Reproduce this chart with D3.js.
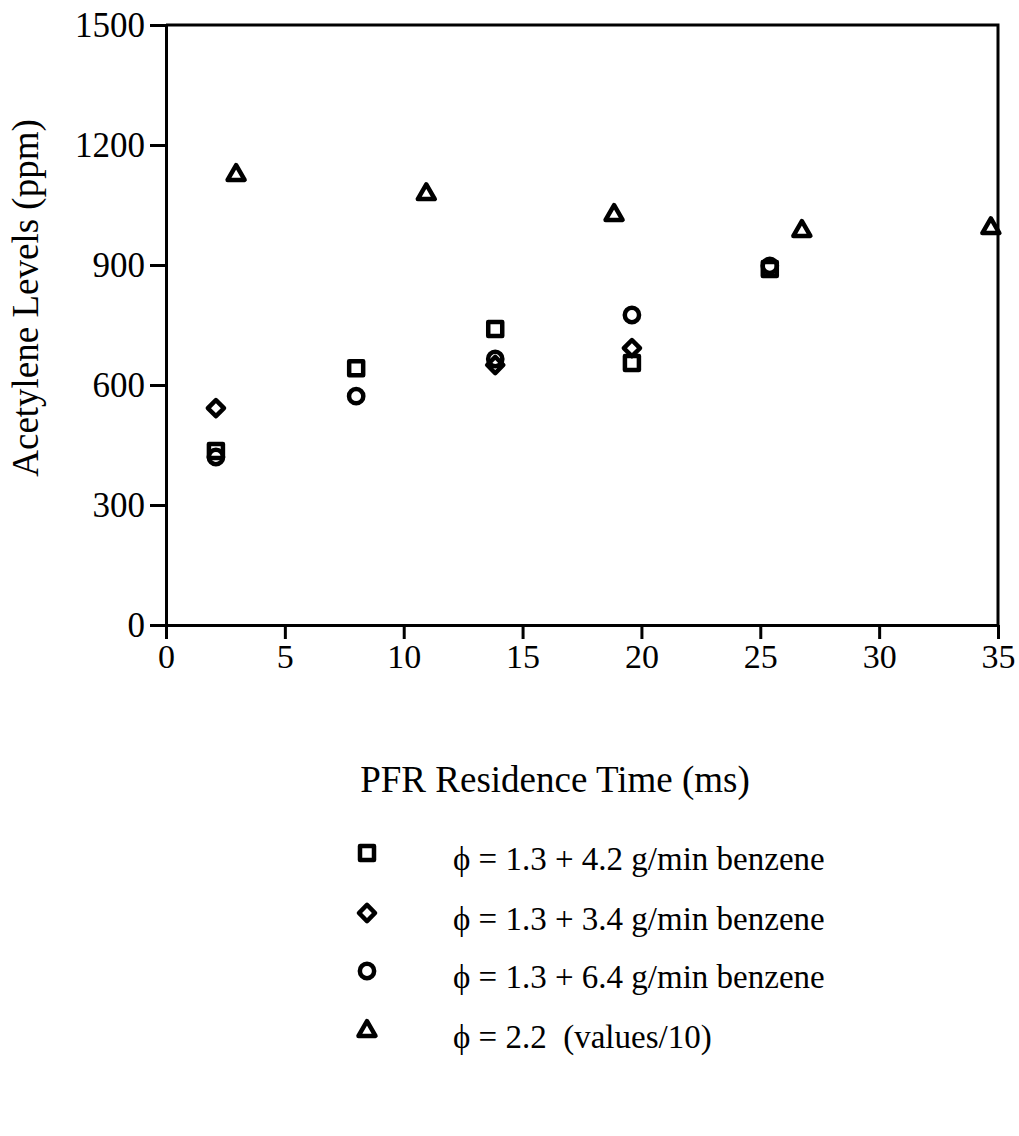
<!DOCTYPE html>
<html>
<head>
<meta charset="utf-8">
<script src="https://cdn.jsdelivr.net/npm/d3@7"></script>
<style>
  body { margin: 0; background: #fff; }
  text { font-family: "Liberation Serif", "Times New Roman", serif; fill: #000; }
</style>
</head>
<body>
<div id="chart"></div>
<script>
// datos
const timeSquare = [2.1, 8.0, 13.85, 19.6, 25.4]
const valSquare = [435, 642, 740, 655, 890]

const timeDiamond = [2.1, 13.85, 19.6]
const valDiamond = [542, 650, 692]

const timeCircle = [2.1, 8.0, 13.85, 19.6, 25.4]
const valCircle = [420, 572, 665, 775, 898]

const timeTriangle = [2.95, 10.95, 18.85, 26.75, 34.7]
const valTriangle = [1125, 1077, 1025, 985, 992]

const xTicks = [0, 5, 10, 15, 20, 25, 30, 35]
const yTicks = [0, 300, 600, 900, 1200, 1500]

const legendLabels = [
  'ϕ = 1.3 + 4.2 g/min benzene',
  'ϕ = 1.3 + 3.4 g/min benzene',
  'ϕ = 1.3 + 6.4 g/min benzene',
  'ϕ = 2.2  (values/10)'
]

// lienzo
const W = 1019, H = 1136
const margin = { left: 166, top: 25 }
const width = 832, height = 600

const svg = d3.select('#chart').append('svg')
  .attr('width', W).attr('height', H)

const g = svg.append('g').attr('transform', `translate(${margin.left},${margin.top})`)

const x = d3.scaleLinear().domain([0, 35]).range([0, width])
const y = d3.scaleLinear().domain([0, 1500]).range([height, 0])

// marco superior y derecho
g.append('path')
  .attr('d', `M0,0H${width}V${height}`)
  .attr('fill', 'none').attr('stroke', '#000').attr('stroke-width', 3)

// ejes
const xAxis = g.append('g')
  .attr('transform', `translate(0,${height})`)
  .call(d3.axisBottom(x).tickValues(xTicks).tickSize(14).tickSizeOuter(0).tickPadding(5))
const yAxis = g.append('g')
  .call(d3.axisLeft(y).tickValues(yTicks).tickFormat(d3.format('d')).tickSize(16).tickSizeOuter(0).tickPadding(5))

for (const ax of [xAxis, yAxis]) {
  ax.select('.domain').attr('stroke-width', 3)
  ax.selectAll('.tick line').attr('stroke-width', 3)
  ax.selectAll('.tick text').attr('font-size', 34).attr('font-family', '"Liberation Serif", serif')
}
yAxis.selectAll('.tick text').attr('font-size', 35)

// titulos
svg.append('text')
  .attr('x', 555).attr('y', 792)
  .attr('text-anchor', 'middle').attr('font-size', 37)
  .text('PFR Residence Time (ms)')

svg.append('text')
  .attr('transform', 'translate(38,298) rotate(-90)')
  .attr('text-anchor', 'middle').attr('font-size', 37)
  .text('Acetylene Levels (ppm)')

// simbolos
const series = [
  { t: timeSquare, v: valSquare, type: d3.symbolSquare, size: 196, rot: 0 },
  { t: timeDiamond, v: valDiamond, type: d3.symbolSquare, size: 130, rot: 45 },
  { t: timeCircle, v: valCircle, type: d3.symbolCircle, size: 160, rot: 0 },
  { t: timeTriangle, v: valTriangle, type: d3.symbolTriangle, size: 125, rot: 0 }
]

series.forEach(s => {
  const sym = d3.symbol().type(s.type).size(s.size)
  g.selectAll(null)
    .data(s.t)
    .enter()
    .append('path')
    .attr('d', sym)
    .attr('transform', (d, i) => `translate(${x(d)},${y(s.v[i])}) rotate(${s.rot})`)
    .attr('fill', 'none')
    .attr('stroke', '#000')
    .attr('stroke-width', 4.5)
    .attr('stroke-linejoin', 'round')
})

// leyenda
const legendY = [853, 913, 971, 1031]
series.forEach((s, i) => {
  const sym = d3.symbol().type(s.type).size(s.size)
  svg.append('path')
    .attr('d', sym)
    .attr('transform', `translate(367,${legendY[i]}) rotate(${s.rot})`)
    .attr('fill', 'none').attr('stroke', '#000').attr('stroke-width', 4.5)
    .attr('stroke-linejoin', 'round')
  svg.append('text')
    .attr('x', 453).attr('y', legendY[i] + 17)
    .attr('font-size', 33)
    .style('white-space', 'pre')
    .text(legendLabels[i])
})
</script>
</body>
</html>
